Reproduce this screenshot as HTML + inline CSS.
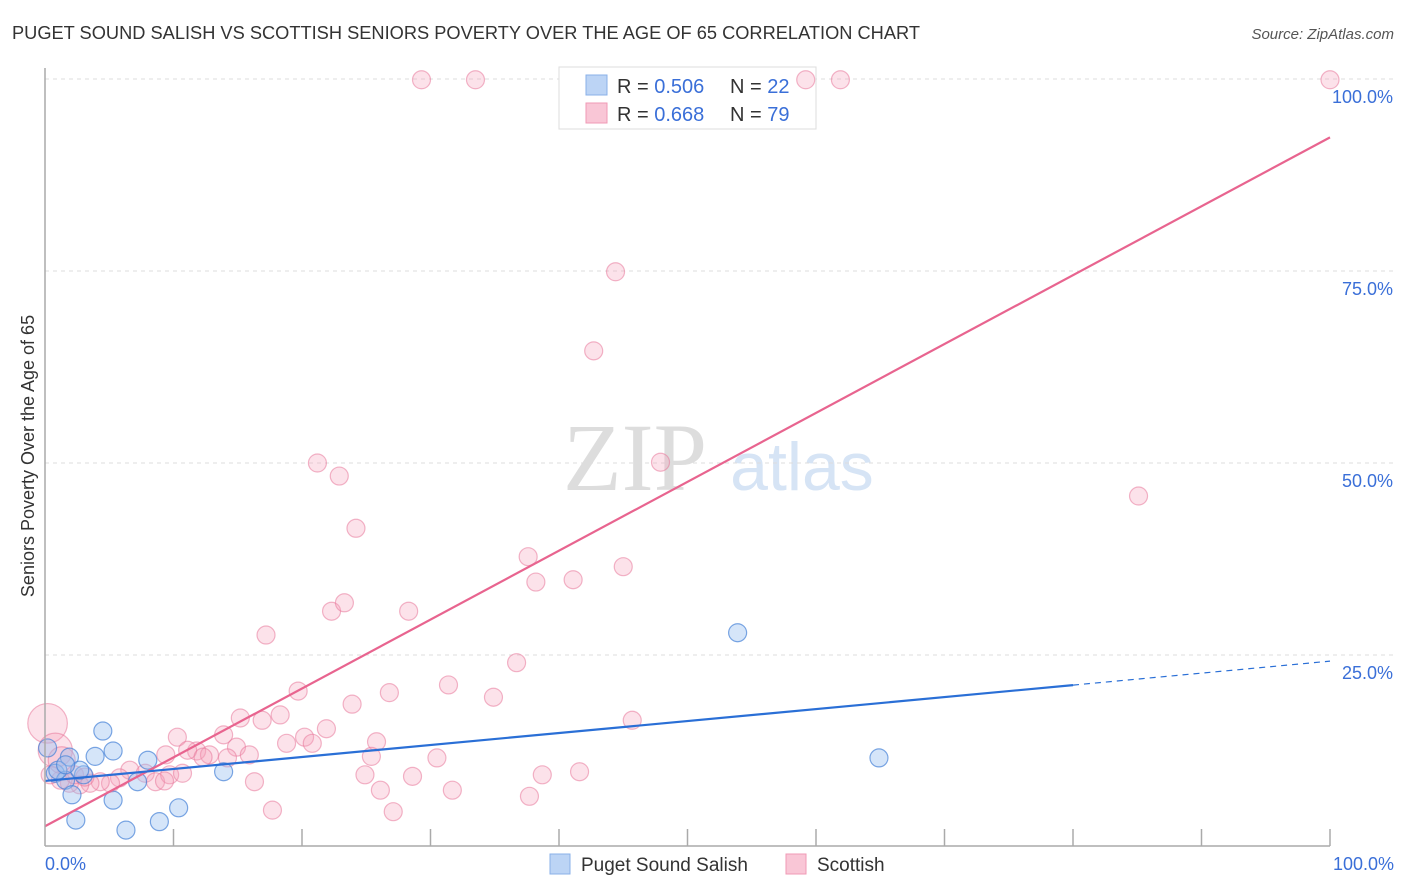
<!DOCTYPE html>
<html><head><meta charset="utf-8"><style>
body{margin:0;background:#fff;font-family:"Liberation Sans",sans-serif}
#c{position:relative;width:1406px;height:892px;overflow:hidden}
</style></head><body>
<div id="c">
<svg id="s" width="1406" height="892" xmlns="http://www.w3.org/2000/svg">
<text x="12" y="39" font-size="18" fill="#333" textLength="908" lengthAdjust="spacingAndGlyphs">PUGET SOUND SALISH VS SCOTTISH SENIORS POVERTY OVER THE AGE OF 65 CORRELATION CHART</text>
<text x="1394" y="39" font-size="15" fill="#555" font-style="italic" text-anchor="end">Source: ZipAtlas.com</text>
<text x="635" y="490" font-size="96" fill="#ddd" font-family="Liberation Serif,serif" text-anchor="middle">ZIP</text>
<text x="802" y="490" font-size="68" fill="#d6e4f5" text-anchor="middle">atlas</text>
<text transform="translate(34,456) rotate(-90)" font-size="18" fill="#333" text-anchor="middle">Seniors Poverty Over the Age of 65</text>
<g id="grid"></g>
<g>
<rect x="559" y="67" width="257" height="62" fill="#fff" stroke="#ddd"/>
<rect x="586" y="75" width="21" height="20" fill="#bcd4f5" stroke="#8ab0e8"/>
<rect x="586" y="103" width="21" height="20" fill="#f9c6d6" stroke="#f09ab5"/>
<text x="617" y="93" font-size="20" fill="#333">R = <tspan fill="#3a6fd8">0.506</tspan></text>
<text x="730" y="93" font-size="20" fill="#333">N = <tspan fill="#3a6fd8">22</tspan></text>
<text x="617" y="121" font-size="20" fill="#333">R = <tspan fill="#3a6fd8"> 0.668</tspan></text>
<text x="730" y="121" font-size="20" fill="#333">N = <tspan fill="#3a6fd8">79</tspan></text>
</g>
<g id="pts"></g><g id="lines"></g>
<line x1="45" y1="68" x2="45" y2="846" stroke="#aaa" stroke-width="1.5"/>
<line x1="45" y1="846" x2="1330" y2="846" stroke="#aaa" stroke-width="1.5"/>
<text x="45" y="870" font-size="18" fill="#3a6fd8">0.0%</text>
<text x="1394" y="870" font-size="18" fill="#3a6fd8" text-anchor="end">100.0%</text>
<g>
<rect x="550" y="854" width="20" height="20" fill="#bcd4f5" stroke="#8ab0e8"/>
<text x="581" y="871" font-size="19" fill="#333">Puget Sound Salish</text>
<rect x="786" y="854" width="20" height="20" fill="#f9c6d6" stroke="#f09ab5"/>
<text x="817" y="871" font-size="19" fill="#333">Scottish</text>
</g>
</svg></div>
<script>
const yTicks=[25,50,75,100];
const yTickLabels=["25.0%","50.0%","75.0%","100.0%"];
const xTicks=[10,20,30,40,50,60,70,80,90,100];
const blueX=[0.2,0.8,1.6,1.9,2.1,2.4,3.0,3.9,4.5,5.3,5.3,6.3,7.2,8.0,8.9,10.4,13.9,53.9,64.9,1.0,2.7,1.6];
const blueY=[12.9,9.6,8.7,11.7,6.8,3.5,9.4,11.8,15.1,12.5,6.1,2.2,8.5,11.3,3.3,5.1,9.8,27.9,11.6,10.0,10.0,10.7];
const pinkX=[29.3,33.5,59.2,61.9,100,44.4,42.7,21.2,22.9,47.9,85.1,24.2,37.6,38.2,41.1,45.0,17.2,22.3,23.3,28.3,36.7,19.7,26.8,31.4,34.9,23.9,15.2,16.9,18.3,45.7,21.9,10.3,13.9,11.8,12.8,14.9,15.9,18.8,20.2,20.8,25.8,25.4,30.5,11.1,14.2,9.4,6.6,7.8,8.6,9.7,10.7,5.8,5.1,4.3,3.5,2.7,1.9,1.2,0.4,0.2,0.8,1.3,2.3,3.1,16.3,24.9,28.6,26.1,31.7,38.7,41.6,37.7,17.7,27.1,9.3,12.3];
const pinkY=[99.9,99.9,99.9,99.9,99.9,74.9,64.6,50.0,48.3,50.1,45.7,41.5,37.8,34.5,34.8,36.5,27.6,30.7,31.8,30.7,24.0,20.3,20.1,21.1,19.5,18.6,16.8,16.5,17.2,16.5,15.4,14.3,14.6,12.5,12.0,13.0,12.0,13.5,14.3,13.5,13.7,11.8,11.6,12.6,11.6,12.0,10.0,9.6,8.5,9.4,9.6,9.0,8.3,8.5,8.3,8.1,8.3,8.7,9.4,16.1,12.6,11.3,9.4,9.1,8.5,9.4,9.2,7.4,7.4,9.4,9.8,6.6,4.8,4.6,8.6,11.7];
const pinkSize=[];for(let i=0;i<pinkX.length;i++)pinkSize.push(1);
pinkSize[59]=2.2;pinkSize[60]=1.9;pinkSize[61]=1.5;
const blueTrend=[8.6,0.156];
const pinkTrend=[2.7,0.897];
const NS="http://www.w3.org/2000/svg";
const sx=v=>45+v*12.85, sy=v=>847-v*7.68;
function mk(t,a,p){const e=document.createElementNS(NS,t);for(const k in a)e.setAttribute(k,a[k]);document.getElementById(p).appendChild(e);return e;}
yTicks.forEach((t,i)=>{
 const l=mk('line',{x1:45,x2:1395,y1:sy(t),y2:sy(t),stroke:'#ddd','stroke-dasharray':'4,4'},'grid');
 
 
 const tx=mk('text',{x:1393,y:sy(t)+24,'font-size':18,fill:'#3a6fd8','text-anchor':'end'},'grid');
 tx.textContent=yTickLabels[i];
 
 
});
xTicks.forEach(t=>{
 const l=mk('line',{x1:sx(t),x2:sx(t),y1:829,y2:846,stroke:'#aaa','stroke-width':1.5},'grid');
 
 
});
pinkX.forEach((x,i)=>{
 const c=mk('circle',{cx:sx(x),cy:sy(pinkY[i]),r:9*pinkSize[i],fill:'rgba(245,160,185,0.3)',stroke:'rgba(232,120,155,0.55)','stroke-width':1.2},'pts');
 
 
});
blueX.forEach((x,i)=>{
 const c=mk('circle',{cx:sx(x),cy:sy(blueY[i]),r:9,fill:'rgba(150,190,240,0.4)',stroke:'rgba(70,130,215,0.7)','stroke-width':1.2},'pts');
 
 
});
let l=mk('line',{x1:sx(0),y1:sy(pinkTrend[0]),x2:sx(100),y2:sy(pinkTrend[0]+pinkTrend[1]*100),stroke:'#e8648f','stroke-width':2.2},'lines');


l=mk('line',{x1:sx(0),y1:sy(blueTrend[0]),x2:sx(80),y2:sy(blueTrend[0]+blueTrend[1]*80),stroke:'#2a6fd6','stroke-width':2.2},'lines');


l=mk('line',{x1:sx(80),y1:sy(blueTrend[0]+blueTrend[1]*80),x2:sx(100),y2:sy(blueTrend[0]+blueTrend[1]*100),stroke:'#2a6fd6','stroke-width':1.2,'stroke-dasharray':'6,5'},'lines');


</script>
</body></html>
